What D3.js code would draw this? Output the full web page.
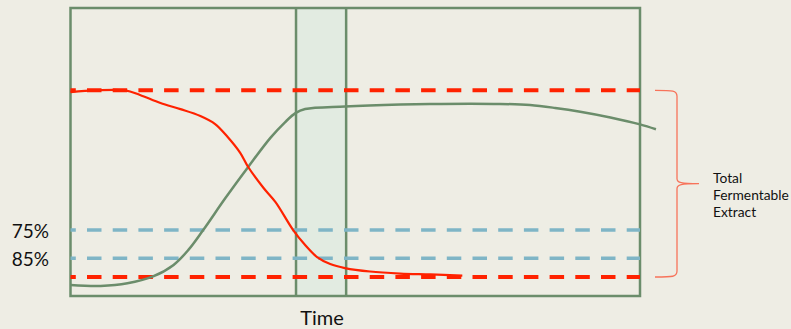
<!DOCTYPE html>
<html><head><meta charset="utf-8">
<script src="https://cdn.jsdelivr.net/npm/d3@7/dist/d3.min.js"></script>
<style>html,body{margin:0;padding:0;background:#eeede4;}svg{display:block;}</style>
</head><body>
<script>
// Data (time 0..100, value 0..100)
const greenTime  = [0,5.3,10.0,14.4,18.1,20.7,23.3,27.2,31.2,35.1,37.7,39.5,41.2,48.2,57.9,63.1,75.4,80.7,85.1,89.5,94.8,100,102.8];
const greenValue = [3.8,3.5,4.4,6.7,10.8,16.0,22.9,34.0,44.8,54.9,60.4,63.5,64.9,65.8,66.5,66.7,66.7,66.3,65.3,64.0,62.0,59.6,57.9];
const redTime  = [0,4.4,9.6,12.2,15.8,19.3,22.8,25.4,27.6,29.8,31.2,33.9,36.0,39.1,41.2,43.3,45.6,48.2,52.6,57.9,63.2,68.8];
const redValue = [70.8,71.4,71.4,69.8,67.0,64.9,62.5,59.7,55.2,49.7,44.8,37.5,32.6,22.9,17.7,13.5,11.1,9.7,8.5,7.8,7.5,7.1];
const redLevels = [71.4, 6.6];
const blueLevels = [22.9, 13.1];
const blueLabels = ["75%", "85%"];
const bandRange = [39.6, 48.4];
const braceLabel = ["Total", "Fermentable", "Extract"];
const xTitle = "Time";

const W = 791, H = 329;
const svg = d3.select("body").append("svg").attr("width", W).attr("height", H);
svg.append("rect").attr("width", W).attr("height", H).attr("fill", "#eeede4");

const x = d3.scaleLinear().domain([0, 100]).range([70.5, 640]);
const y = d3.scaleLinear().domain([0, 100]).range([296, 8]);

const frame = "#6b8d6b";
const font = "Lato, 'Open Sans', sans-serif";

// shaded band
svg.append("rect")
  .attr("x", x(bandRange[0])).attr("y", y(100))
  .attr("width", x(bandRange[1]) - x(bandRange[0]))
  .attr("height", y(0) - y(100))
  .attr("fill", "#e2ebe1");

// frame
svg.append("rect")
  .attr("x", x(0)).attr("y", y(100))
  .attr("width", x(100) - x(0)).attr("height", y(0) - y(100))
  .attr("fill", "none").attr("stroke", frame).attr("stroke-width", 2.5);
bandRange.forEach(t => {
  svg.append("line").attr("x1", x(t)).attr("x2", x(t)).attr("y1", y(100)).attr("y2", y(0))
    .attr("stroke", frame).attr("stroke-width", 2.5);
});

// dashed levels
blueLevels.forEach(v => {
  svg.append("line").attr("x1", x(0)).attr("x2", x(100)).attr("y1", y(v)).attr("y2", y(v))
    .attr("stroke", "#7fb5c6").attr("stroke-width", 3.5)
    .attr("stroke-dasharray", "14.5,11.2").attr("stroke-dashoffset", 9.2);
});
redLevels.forEach(v => {
  svg.append("line").attr("x1", x(0)).attr("x2", x(100)).attr("y1", y(v)).attr("y2", y(v))
    .attr("stroke", "#ff2200").attr("stroke-width", 4)
    .attr("stroke-dasharray", "14.5,11.2").attr("stroke-dashoffset", 9.2);
});

const line = d3.line().x(d => x(d[0])).y(d => y(d[1])).curve(d3.curveCatmullRom.alpha(0.5));

svg.append("path").datum(greenTime.map((t, i) => [t, greenValue[i]]))
  .attr("d", line).attr("fill", "none").attr("stroke", frame).attr("stroke-width", 2.5);
svg.append("path").datum(redTime.map((t, i) => [t, redValue[i]]))
  .attr("d", line).attr("fill", "none").attr("stroke", "#ff2200").attr("stroke-width", 2.2);

// labels
blueLevels.forEach((v, i) => {
  svg.append("text").attr("x", 49).attr("y", y(v) + 8).attr("text-anchor", "end")
    .attr("font-family", font).attr("font-size", 19).attr("fill", "#111")
    .text(blueLabels[i]);
});
svg.append("text").attr("x", (x(bandRange[0]) + x(bandRange[1])) / 2 + 1).attr("y", 325)
  .attr("text-anchor", "middle")
  .attr("font-family", font).attr("font-size", 20).attr("fill", "#111")
  .text(xTitle);

// brace
const bt = y(redLevels[0]), bb = y(redLevels[1]), bm = (bt + bb) / 2;
const bx0 = 655, bx1 = 677, bx2 = 699;
const brace = `M${bx0},${bt} C${bx1 - 4},${bt} ${bx1},${bt} ${bx1},${bt + 6} L${bx1},${bm - 5} C${bx1},${bm - 1} ${bx1 + 4},${bm} ${bx2},${bm}` +
  ` M${bx2},${bm} C${bx1 + 4},${bm} ${bx1},${bm + 1} ${bx1},${bm + 5} L${bx1},${bb - 6} C${bx1},${bb} ${bx1 - 4},${bb} ${bx0},${bb}`;
svg.append("path").attr("d", brace).attr("fill", "none").attr("stroke", "#f7735a").attr("stroke-width", 1.3);

braceLabel.forEach((s, i) => {
  svg.append("text").attr("x", 713).attr("y", 183 + i * 17)
    .attr("font-family", font).attr("font-size", 13.8).attr("fill", "#111")
    .text(s);
});
</script>
</body></html>
